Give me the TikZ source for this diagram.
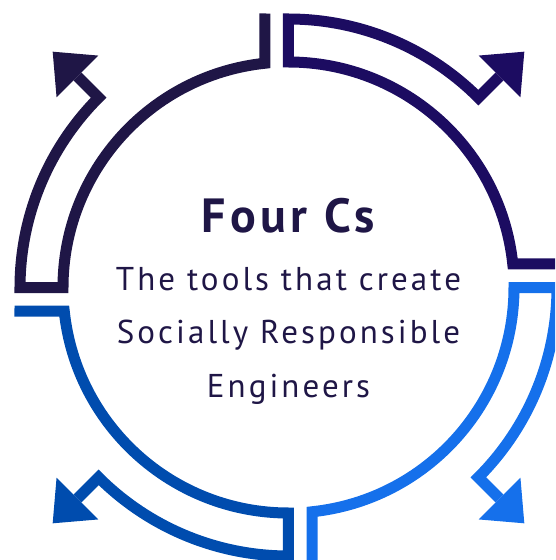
\documentclass[tikz,border=0pt]{standalone}
\usepackage{fontspec}
\usetikzlibrary{arrows.meta}

\newfontfamily\headfont{PT Sans}[LetterSpace=9.0]
\newfontfamily\bodyfont{PT Sans}[LetterSpace=9.3]

\definecolor{navyTL}{HTML}{1F1646}
\definecolor{indigoTR}{HTML}{1C0C61}
\definecolor{blueBR}{HTML}{1570EB}
\definecolor{blueBL}{HTML}{004CAE}

\begin{document}
\begin{tikzpicture}[x=1pt,y=1pt]
    % Styles
    \tikzset{
        segment/.style={line width=11pt, line join=miter},
        outarrow/.style={-{Triangle[length=35pt,width=59pt,line width=0pt]}},
        heading/.style={font=\headfont\bfseries\fontsize{48}{50}\selectfont, text=navyTL, anchor=base, inner sep=0pt},
        tagline/.style={font=\bodyfont\fontsize{33}{36}\selectfont, text=navyTL, anchor=base, inner sep=0pt}
    }

    % Frame
    \useasboundingbox (-288.5,-272.5) rectangle (266.5,287.5);
    \clip (-288.5,-272.5) rectangle (266.5,287.5);

    % Four arrow segments
    \foreach \turn/\shade in {0/navyTL, -90/indigoTR, -180/blueBR, -270/blueBL}
        \draw[segment, outarrow, color=\shade, rotate=\turn]
            (-23.5,274) -- (96:225.5) arc[start angle=96, end angle=180, radius=225.5]
            -- (180:268.5) arc[start angle=180, end angle=135, radius=268.5]
            -- (135:333.5);

    % Centre text
    \node[heading] (title) at (0,55.5) {Four Cs};
    \node[tagline] (line1) at (0,-2.5) {The tools that create};
    \node[tagline] (line2) at (0,-55.5) {Socially Responsible};
    \node[tagline] (line3) at (0,-109.5) {Engineers};

\end{tikzpicture}
\end{document}
